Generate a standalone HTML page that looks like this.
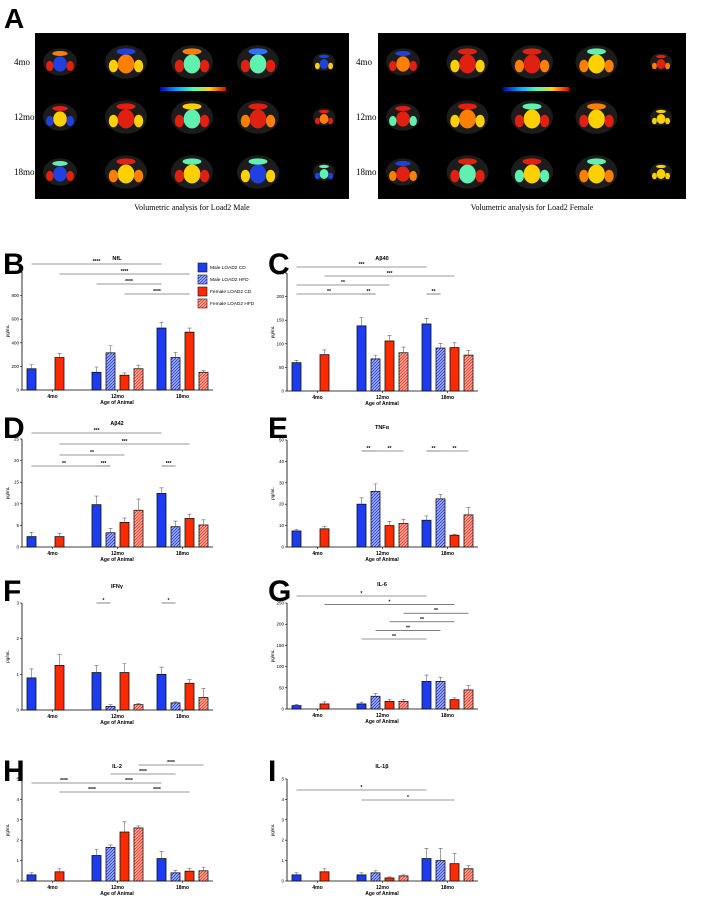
<!DOCTYPE html>
<html><head><meta charset="utf-8"><style>
body{margin:0;background:#fff}
svg{display:block;font-family:"Liberation Sans",Arial,sans-serif}
</style></head><body>
<svg id="fig" width="708" height="900" viewBox="0 0 708 900">
<defs>
<pattern id="hb" width="3" height="3" patternUnits="userSpaceOnUse"><rect width="3" height="3" fill="#dfe2ff"/><path d="M0 3L3 0M-1 1L1 -1M2 4L4 2" stroke="#2a44f0" stroke-width="1.3"/></pattern>
<pattern id="hr" width="3" height="3" patternUnits="userSpaceOnUse"><rect width="3" height="3" fill="#ffe0dc"/><path d="M0 3L3 0M-1 1L1 -1M2 4L4 2" stroke="#ff3a22" stroke-width="1.3"/></pattern>
<linearGradient id="cbar" x1="0" x2="1"><stop offset="0" stop-color="#0000c0"/><stop offset=".25" stop-color="#00a0ff"/><stop offset=".5" stop-color="#40ffc0"/><stop offset=".75" stop-color="#ffd000"/><stop offset="1" stop-color="#e00000"/></linearGradient>
</defs>
<g id="panelA"></g>
<g id="charts"></g>
</svg>
<script>
const NS="http://www.w3.org/2000/svg";
function mk(tag,attrs,parent,text){const e=document.createElementNS(NS,tag);for(const k in attrs)e.setAttribute(k,attrs[k]);if(text!==undefined)e.textContent=text;parent.appendChild(e);return e;}

// ---------- Panel A (brain maps) ----------
const A=document.getElementById('panelA');
const letterA=mk('text',{x:4,y:28,'font-size':28,'font-weight':'bold'},A,'A');


const brainCols=["#e02010","#2040e0","#ffd000","#60f0b0","#ff8000","#3070ff"];
const brainSets=[
 [[1,0,4],[4,2,1],[3,0,4],[3,0,5],[1,2,1]],
 [[2,1,0],[0,2,0],[3,0,2],[0,4,0],[4,0,0]],
 [[1,0,3],[2,4,0],[2,0,3],[1,2,3],[3,1,3]]
];
const femaleSets=[
 [[4,0,1],[0,2,0],[0,4,0],[2,4,3],[0,4,0]],
 [[0,3,0],[4,2,0],[2,0,3],[2,0,4],[2,2,2]],
 [[0,4,1],[3,0,0],[2,3,0],[2,4,3],[2,2,2]]
];
function drawMap(x0,w0,sets,caption){
  const bg=mk('rect',{x:x0,y:33,width:w0,height:166,fill:'#000'},A);
  
  
  const cb=mk('rect',{x:x0+125,y:87,width:66,height:4,fill:'url(#cbar)'},A);
  
  
  const step=(w0-50)/4;
  for(let r=0;r<3;r++){
    const cy=62+r*55;
    for(let c=0;c<5;c++){
      const cx=x0+25+c*step, s=sets[r][c], w=c==4?11:(c==0?17:21);
      mk('ellipse',{cx:cx,cy:cy,rx:w,ry:w*0.8,fill:'#1c1c1c'},A);
      mk('ellipse',{cx:cx,cy:cy+2,rx:w*0.4,ry:w*0.45,fill:brainCols[s[0]]},A);
      mk('ellipse',{cx:cx-w*0.6,cy:cy+4,rx:w*0.22,ry:w*0.3,fill:brainCols[s[1]]},A);
      mk('ellipse',{cx:cx+w*0.6,cy:cy+4,rx:w*0.22,ry:w*0.3,fill:brainCols[s[1]]},A);
      mk('ellipse',{cx:cx,cy:cy-w*0.5,rx:w*0.45,ry:w*0.15,fill:brainCols[s[2]]},A);
    }
  }
  const cap=mk('text',{x:x0+w0/2,y:210,'font-size':8,'text-anchor':'middle','font-family':'Liberation Serif, serif'},A,caption);
  
  
}
['4mo','12mo','18mo'].forEach((l,i)=>{
  [[14,],[356]].forEach(x=>{
    const t=mk('text',{x:x[0],y:65+i*55,'font-size':9,'font-family':'Liberation Serif, serif'},A,l);
    
    
  });
});
drawMap(35,314,brainSets,'Volumetric analysis for Load2 Male');
drawMap(378,308,femaleSets,'Volumetric analysis for Load2 Female');

// ---------- Bar chart data ----------
const groups=["4mo","12mo","18mo"];
const seriesNames=["Male LOAD2 CD","Male LOAD2 HFD","Female LOAD2 CD","Female LOAD2 HFD"];
// bar order: 4mo(MaleCD, FemaleCD), 12mo x4, 18mo x4
const nflVals=[180,275,150,315,125,180,525,275,490,150];
const nflErr=[35,35,45,60,20,30,50,45,35,15];
const ab40Vals=[60,77,138,68,106,81,142,91,92,76];
const ab40Err=[5,10,18,8,12,12,12,10,10,10];
const ab42Vals=[2.4,2.4,9.8,3.3,5.7,8.5,12.4,4.7,6.6,5.1];
const ab42Err=[1,0.8,2,1,1,2.6,1.3,1.3,1,1.2];
const tnfVals=[7.5,8.5,20,26,10,11,12.5,22.5,5.5,15];
const tnfErr=[0.8,1,3,3.5,2,2,2,2,0.5,3.5];
const ifnVals=[0.9,1.25,1.05,0.1,1.05,0.15,1.0,0.2,0.75,0.35];
const ifnErr=[0.25,0.3,0.2,0.05,0.25,0.03,0.2,0.03,0.1,0.25];
const il6Vals=[8,12,12,30,18,18,65,65,22,45];
const il6Err=[3,5,4,6,5,5,15,10,4,10];
const il2Vals=[0.3,0.45,1.25,1.65,2.4,2.6,1.1,0.4,0.48,0.5];
const il2Err=[0.1,0.15,0.3,0.12,0.5,0.1,0.35,0.12,0.15,0.18];
const il1Vals=[0.3,0.45,0.3,0.4,0.15,0.25,1.1,1.0,0.85,0.6];
const il1Err=[0.1,0.15,0.1,0.1,0.05,0.05,0.5,0.6,0.5,0.15];
// significance: [fromBar,toBar,row,label]
const nflSig=[[0,6,0,'****'],[1,8,1,'****'],[2,6,2,'****'],[4,8,3,'****']];
const ab40Sig=[[0,6,0,'***'],[1,8,1,'***'],[0,4,2,'**'],[0,2,3,'**'],[2,3,3,'**'],[6,7,3,'**']];
const ab42Sig=[[0,6,0,'***'],[1,8,1,'***'],[1,4,2,'**'],[0,2,3,'**'],[2,3,3,'***'],[6,7,3,'***']];
const tnfSig=[[2,3,0,'**'],[3,5,0,'**'],[6,7,0,'**'],[7,9,0,'**']];
const ifnSig=[[2,3,0,'*'],[6,7,0,'*']];
const il6Sig=[[0,6,0,'*'],[1,8,1,'*'],[5,9,2,'**'],[4,8,3,'**'],[3,7,4,'**'],[2,6,5,'**']];
const il2Sig=[[5,9,0,'****'],[3,7,1,'****'],[0,2,2,'****'],[2,6,2,'****'],[1,4,3,'****'],[4,8,3,'****']];
const il1Sig=[[0,6,0,'*'],[2,8,1,'*']];
const nflTicks=[0,200,400,600,800,1000];
const ab40Ticks=[0,50,100,150,200,250];
const ab42Ticks=[0,5,10,15,20,25];
const tnfTicks=[0,10,20,30,40,50];
const ifnTicks=[0,1,2,3];
const il6Ticks=[0,50,100,150,200,250];
const il2Ticks=[0,1,2,3,4,5];
const il1Ticks=[0,1,2,3,4,5];

const fills=["#1b3cf0","url(#hb)","#ff2a00","url(#hr)"];
const barSeries=[0,2,0,1,2,3,0,1,2,3];
const barGroup=[0,0,1,1,1,1,2,2,2,2];
const barSlot=[0,2,0,1,2,3,0,1,2,3];

function chart(o){
  const g=mk('g',{},document.getElementById('charts'));
  
  
  const x0=o.x0, yT=o.yT, y0=o.y0, max=o.ticks[o.ticks.length-1];
  const yS=v=>y0-(v/max)*(y0-yT);
  const barX=i=>x0+5+barGroup[i]*65+barSlot[i]*14;
  const L=mk('text',{x:o.x0-19,y:o.letterY,'font-size':30,'font-weight':'bold'},g,o.letter);
  
  
  const T=mk('text',{x:x0+95,y:o.titleY,'font-size':5.5,'font-weight':'bold','text-anchor':'middle'},g,o.title);
  
  
  const ax=mk('path',{d:`M${x0} ${yT}V${y0}H${x0+191}`,stroke:'#000','stroke-width':0.8,fill:'none'},g);
  
  
  o.ticks.forEach(t=>{
    const y=yS(t);
    mk('line',{x1:x0-2,x2:x0,y1:y,y2:y,stroke:'#000','stroke-width':0.6},g);
    const tl=mk('text',{x:x0-3,y:y+1.5,'font-size':4.5,'text-anchor':'end'},g,String(t));
    
    
  });
  const yt=mk('text',{transform:`translate(${x0-13},${(yT+y0)/2}) rotate(-90)`,'font-size':4.5,'text-anchor':'middle'},g,'pg/mL');
  
  
  groups.forEach((gn,k)=>{
    const cx=x0+30.5+k*65;
    mk('line',{x1:cx,x2:cx,y1:y0,y2:y0+2,stroke:'#000','stroke-width':0.6},g);
    const gl=mk('text',{x:cx,y:y0+8,'font-size':5,'font-weight':'bold','text-anchor':'middle'},g,gn);
    
    
  });
  const xt=mk('text',{x:x0+95,y:y0+14,'font-size':5,'font-weight':'bold','text-anchor':'middle'},g,'Age of Animal');
  
  
  o.vals.forEach((v,i)=>{
    const x=barX(i), y=yS(v), ye=yS(v+o.err[i]);
    const b=mk('rect',{x:x,y:y,width:9,height:y0-y,fill:fills[barSeries[i]],stroke:'#111','stroke-width':0.8},g);
    
    
    mk('path',{d:`M${x+4.5} ${y}V${ye}M${x+2.5} ${ye}H${x+6.5}`,stroke:'#666','stroke-width':0.6},g);
  });
  o.sig.forEach(s=>{
    const xa=barX(s[0])+4.5, xb=barX(s[1])+4.5, y=o.sigY+s[2]*o.sigStep;
    const ln=mk('line',{x1:xa,x2:xb,y1:y,y2:y,stroke:'#333','stroke-width':0.6},g);
    
    
    mk('text',{x:(xa+xb)/2,y:y-1,'font-size':5,'font-weight':'bold','text-anchor':'middle'},g,s[3]);
  });
}
chart({letter:'B',title:'NfL',x0:22,yT:272,y0:390,letterY:274,titleY:260,ticks:nflTicks,vals:nflVals,err:nflErr,sig:nflSig,sigY:264,sigStep:10});
chart({letter:'C',title:'Aβ40',x0:287,yT:273,y0:391,letterY:274,titleY:260,ticks:ab40Ticks,vals:ab40Vals,err:ab40Err,sig:ab40Sig,sigY:267,sigStep:9});
chart({letter:'D',title:'Aβ42',x0:22,yT:439,y0:547,letterY:438,titleY:425,ticks:ab42Ticks,vals:ab42Vals,err:ab42Err,sig:ab42Sig,sigY:433,sigStep:11});
chart({letter:'E',title:'TNFα',x0:287,yT:440,y0:547,letterY:438,titleY:429,ticks:tnfTicks,vals:tnfVals,err:tnfErr,sig:tnfSig,sigY:451,sigStep:10});
chart({letter:'F',title:'IFNγ',x0:22,yT:603,y0:710,letterY:601,titleY:588,ticks:ifnTicks,vals:ifnVals,err:ifnErr,sig:ifnSig,sigY:603,sigStep:10});
chart({letter:'G',title:'IL-6',x0:287,yT:603,y0:709,letterY:601,titleY:586,ticks:il6Ticks,vals:il6Vals,err:il6Err,sig:il6Sig,sigY:596,sigStep:8.6});
chart({letter:'H',title:'IL-2',x0:22,yT:779,y0:881,letterY:781,titleY:768,ticks:il2Ticks,vals:il2Vals,err:il2Err,sig:il2Sig,sigY:765,sigStep:9});
chart({letter:'I',title:'IL-1β',x0:287,yT:779,y0:881,letterY:781,titleY:768,ticks:il1Ticks,vals:il1Vals,err:il1Err,sig:il1Sig,sigY:790,sigStep:10});

const lg=mk('g',{},document.getElementById('charts'));


seriesNames.forEach((n,i)=>{
  const y=263+i*12;
  const sw=mk('rect',{x:198,y:y,width:9,height:9,fill:fills[i],stroke:'#111','stroke-width':0.6},lg);
  
  
  const t=mk('text',{x:210,y:y+6,'font-size':4.8},lg,n);
  
  
});
</script>
</body></html>
